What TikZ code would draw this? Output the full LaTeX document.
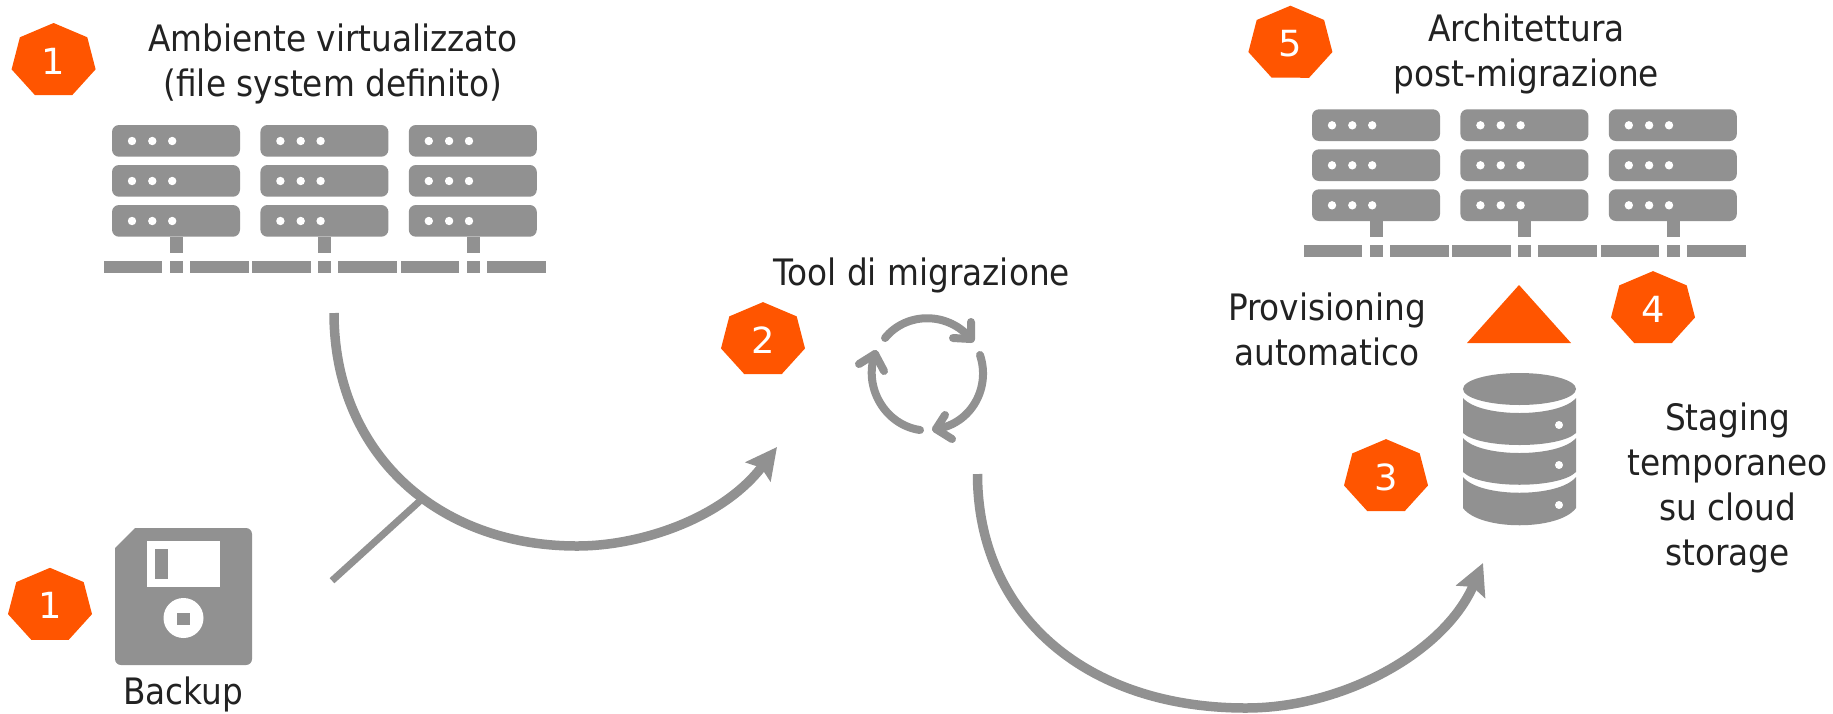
\documentclass[tikz,border=0pt]{standalone}
\usepackage{fontspec}
\setmainfont{DejaVu Sans Condensed}
\usetikzlibrary{arrows.meta,shapes.geometric}
\definecolor{icongray}{HTML}{919191}
\definecolor{badgeorange}{HTML}{FF5500}
\definecolor{labeldark}{HTML}{222222}
\tikzset{
    badge/.style={regular polygon,regular polygon sides=7,fill=badgeorange,text=white,
        minimum size=75.8pt,inner sep=0pt,xscale=1.137,transform shape,
        font=\fontsize{36}{36}\selectfont},
    caption/.style={anchor=base,align=center,inner sep=0pt,text=labeldark,
        font=\fontsize{36.4}{45}\selectfont},
    flowline/.style={draw=icongray,line width=9.5pt,-{Stealth[length=31pt,width=31pt,inset=5pt]}},
    spinline/.style={draw=icongray,line width=8pt,line cap=round,line join=round},
    serverrack/.pic={
        \foreach \col in {0,148.4,296.8} {
            \foreach \row in {0,40,80} {
                \fill[icongray,rounded corners=7pt] (\col,\row) rectangle +(128,31.7);
                \foreach \dot in {20,40.3,60.2}
                    \fill[white] (\col+\dot,\row+16) circle (4.2pt);
            }
            \fill[icongray] (\col+58,111.7) rectangle +(13,16.3);
            \fill[icongray] (\col-8,136) rectangle +(58.3,11.7);
            \fill[icongray] (\col+58,136) rectangle +(13,11.7);
            \fill[icongray] (\col+78,136) rectangle +(59,11.7);
        }
    }
}
\begin{document}
\begin{tikzpicture}[x=1pt,y=-1pt]
    \useasboundingbox (0,0) rectangle (1833,713);

    % left group
    \pic at (112,125) {serverrack};
    \node[badge] (badgeone) at (53.6,60.9) {1};
    \node[caption] (ambiente) at (333,96.7) {Ambiente virtualizzato\\(file system definito)};

    % backup disk
    \fill[icongray,rounded corners=6pt] (135,528) -- (252,528) -- (252,665) -- (115,665) [sharp corners] -- (115,548) -- cycle;
    \fill[white] (147,540.5) rectangle (220,587);
    \fill[icongray] (155,549) rectangle (168,579);
    \fill[white] (183.5,618) circle (20pt);
    \fill[icongray] (177,613) rectangle (190,625);
    \node[badge] (badgedisk) at (50,605.7) {1};
    \node[caption] (backup) at (183,704) {Backup};

    % tool
    \node[badge] (badgetool) at (763,340) {2};
    \node[caption] (tool) at (922,285) {Tool di migrazione};
    \draw[spinline] (885,338) .. controls (907,311) and (949,312) .. (971,339);
    \draw[spinline] (971,322) -- (971,339) -- (953,338);
    \draw[spinline] (980,355) .. controls (991,388) and (971,424) .. (936,429);
    \draw[spinline] (945,415) -- (936,429) -- (952,439);
    \draw[spinline] (920,430) .. controls (885,425) and (863,387) .. (875,354);
    \draw[spinline] (859,364) -- (875,354) -- (884,371);

    % right group
    \pic at (1312,109.3) {serverrack};
    \node[badge] (badgefive) at (1290.4,43.6) {5};
    \node[caption] (target) at (1526.5,86.7) {Architettura\\post-migrazione};
    \node[badge] (badgefour) at (1653,309) {4};
    \fill[badgeorange] (1519,285) -- (1571,343) -- (1467,343) -- cycle;
    \node[caption] (provisioning) at (1327,365.7) {Provisioning\\automatico};

    % storage
    \fill[icongray] (1519.5,389) ellipse [x radius=56.5pt,y radius=16pt];
    \foreach \ya/\yb/\yc/\yd/\spot in {398/418/433/449/425,438/458/472/489/465,477/498/508/531/505} {
        \fill[icongray] (1463,\ya) .. controls (1480,\yb) and (1559,\yb) .. (1576,\ya)
            -- (1576,\yc) .. controls (1559,\yd) and (1480,\yd) .. (1463,\yc) -- cycle;
        \fill[white] (1559,\spot) circle (4pt);
    }
    \node[badge] (badgestore) at (1386,477) {3};
    \node[caption] (staging) at (1727.7,565) {Staging\\temporaneo\\su cloud\\storage};

    % flows
    \coordinate (racksout) at (334,313);
    \coordinate (lowA) at (577,546);
    \coordinate (toolin) at (777,447);
    \coordinate (diskout) at (332,580.7);
    \coordinate (joinA) at (421.7,499.3);
    \coordinate (toolout) at (977.5,474);
    \coordinate (lowB) at (1246,708);
    \coordinate (storein) at (1483,563);
    \draw[flowline] (racksout) .. controls (334,452) and (436,546) .. (lowA)
        .. controls (640,546) and (722,519) .. (toolin);
    \draw[icongray,line width=7pt] (diskout) -- (joinA);
    \draw[flowline] (toolout) .. controls (977.5,614) and (1085,708) .. (lowB)
        .. controls (1345,708) and (1445,651) .. (storein);
\end{tikzpicture}
\end{document}
